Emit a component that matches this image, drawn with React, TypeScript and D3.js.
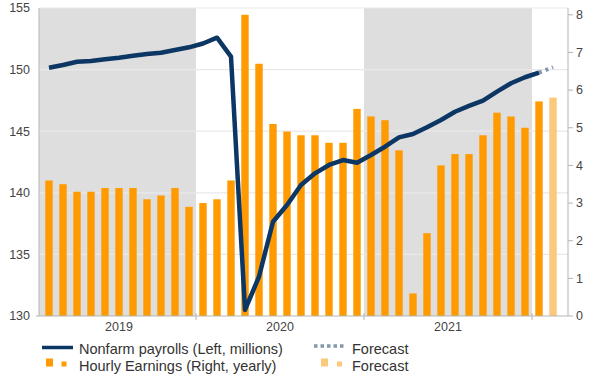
import React from "react";
import * as d3 from "d3";

const months = [
  "Feb 2019", "Mar 2019", "Apr 2019", "May 2019", "Jun 2019", "Jul 2019", "Aug 2019", "Sep 2019", "Oct 2019", "Nov 2019", "Dec 2019",
  "Jan 2020", "Feb 2020", "Mar 2020", "Apr 2020", "May 2020", "Jun 2020", "Jul 2020", "Aug 2020", "Sep 2020", "Oct 2020", "Nov 2020", "Dec 2020",
  "Jan 2021", "Feb 2021", "Mar 2021", "Apr 2021", "May 2021", "Jun 2021", "Jul 2021", "Aug 2021", "Sep 2021", "Oct 2021", "Nov 2021", "Dec 2021",
  "Jan 2022", "Feb 2022",
];

// Nonfarm payrolls, millions (actual, Feb 2019 – Jan 2022)
const payrolls = [
  150.15, 150.37, 150.64, 150.7, 150.84, 150.97, 151.13, 151.27, 151.37, 151.59, 151.81,
  152.12, 152.59, 151.05, 130.49, 133.19, 137.65, 139.01, 140.63, 141.58, 142.26, 142.66, 142.44,
  143.07, 143.74, 144.5, 144.77, 145.32, 145.91, 146.58, 147.05, 147.48, 148.21, 148.89, 149.38,
  149.75,
];
// Forecast segment: Jan 2022 -> Feb 2022
const payrollForecastMonths = ["Jan 2022", "Feb 2022"];
const payrollForecast = [149.75, 150.2];

// Average hourly earnings, % y/y (actual, Feb 2019 – Jan 2022)
const earnings = [
  3.6, 3.5, 3.3, 3.3, 3.4, 3.4, 3.4, 3.1, 3.2, 3.4, 2.9,
  3.0, 3.1, 3.6, 8.0, 6.7, 5.1, 4.9, 4.8, 4.8, 4.6, 4.6, 5.5,
  5.3, 5.2, 4.4, 0.6, 2.2, 4.0, 4.3, 4.3, 4.8, 5.4, 5.3, 5.0,
  5.7,
];
const earningsForecastMonths = ["Feb 2022"];
const earningsForecast = [5.8];

const years = ["2019", "2020", "2021"];
const shadedYears = ["2019", "2021"];
const leftTicks = [130, 135, 140, 145, 150, 155];
const rightTicks = [0, 1, 2, 3, 4, 5, 6, 7, 8];

const W = 600;
const H = 378;
const plotL = 39;
const plotR = 568;
const plotT = 8;
const plotB = 316;

const NAVY = "#0c3663";
const ORANGE = "#ff9a00";
const LIGHT_ORANGE = "#fbc87c";
const FORECAST_LINE = "#8397ad";
const BAND = "#dedede";
const GRID = "#e9e9e9";
const AXIS = "#b5b5b5";
const TEXT = "#333";
const FONT = "'Liberation Sans', Arial, sans-serif";

export default function App() {
  const pad = 0.47;
  const x = d3
    .scaleBand<string>()
    .domain(months)
    .range([42, 560])
    .paddingInner(pad)
    .paddingOuter(pad / 2);
  const step = x.step();
  const bw = x.bandwidth();
  const cx = (m: string) => (x(m) as number) + bw / 2;
  const bandStart = (m: string) => cx(m) - step / 2;

  const yL = d3.scaleLinear().domain([130, 155]).range([plotB, plotT]);
  const yR = d3.scaleLinear().domain([0, (plotB - plotT) / 37.65]).range([plotB, plotT]);

  const yearMonths = (yr: string) => months.filter((m) => m.endsWith(yr));
  const yearStart = (yr: string) => {
    const ms = yearMonths(yr);
    return Math.max(plotL, bandStart(ms[0]) - (ms[0].startsWith("Jan") ? 0 : step * (12 - ms.length)));
  };
  const yearEnd = (yr: string) => {
    const ms = yearMonths(yr);
    return bandStart(ms[ms.length - 1]) + step;
  };
  const yearCenter = (yr: string) => {
    const ms = yearMonths(yr);
    return (cx(ms[0]) + cx(ms[ms.length - 1])) / 2;
  };
  const yearTicks = ["Jan 2020", "Jan 2021", "Jan 2022"].map(bandStart);

  const line = d3
    .line<number>()
    .x((_, i) => cx(months[i]))
    .y((d) => yL(d))
    .curve(d3.curveLinear);
  const fLine = d3
    .line<number>()
    .x((_, i) => cx(payrollForecastMonths[i]))
    .y((d) => yL(d));

  return (
    <div style={{ position: "fixed", left: 0, top: 0, width: W, height: H, background: "#fff" }}>
      <svg width={W} height={H} style={{ display: "block", fontFamily: FONT }}>
        <rect x={0} y={0} width={W} height={H} fill="#fff" />
        {/* year bands */}
        {shadedYears.map((yr) => (
          <rect
            key={yr}
            x={yearStart(yr)}
            y={plotT}
            width={yearEnd(yr) - yearStart(yr)}
            height={plotB - plotT}
            fill={BAND}
          />
        ))}
        {/* gridlines */}
        {leftTicks.slice(1).map((t) => (
          <line key={t} x1={plotL} x2={plotR} y1={yL(t)} y2={yL(t)} stroke={GRID} strokeWidth={1.2} />
        ))}
        {/* bars */}
        {earnings.map((v, i) => (
          <rect key={months[i]} x={x(months[i])} y={yR(v)} width={bw} height={plotB - yR(v)} fill={ORANGE} />
        ))}
        {earningsForecast.map((v, i) => (
          <rect
            key={"f" + i}
            x={x(earningsForecastMonths[i])}
            y={yR(v)}
            width={bw}
            height={plotB - yR(v)}
            fill={LIGHT_ORANGE}
          />
        ))}
        {/* axes */}
        <line x1={plotL} x2={plotL} y1={plotT} y2={plotB} stroke={AXIS} strokeWidth={1} />
        <line x1={plotR} x2={plotR} y1={plotT} y2={plotB} stroke={AXIS} strokeWidth={1} />
        <line x1={plotL - 3} x2={plotR} y1={plotB} y2={plotB} stroke={AXIS} strokeWidth={1} />
        {yearTicks.map((t, i) => (
          <line key={i} x1={t} x2={t} y1={plotB - 3} y2={plotB + 4} stroke={AXIS} strokeWidth={1} />
        ))}
        {rightTicks.map((t) => (
          <line key={t} x1={plotR} x2={plotR + 5} y1={yR(t)} y2={yR(t)} stroke={AXIS} strokeWidth={1} />
        ))}
        {/* payroll line */}
        <path
          d={fLine(payrollForecast) || ""}
          fill="none"
          stroke={FORECAST_LINE}
          strokeWidth={4}
          strokeDasharray="3 4"
        />
        <path
          d={line(payrolls) || ""}
          fill="none"
          stroke={NAVY}
          strokeWidth={4.5}
          strokeLinejoin="round"
          strokeLinecap="butt"
        />
        {/* tick labels */}
        {leftTicks.map((t) => (
          <text key={t} x={30} y={yL(t)} dy="0.35em" textAnchor="end" fontSize={12.5} fill="#444">
            {t}
          </text>
        ))}
        {rightTicks.map((t) => (
          <text key={t} x={576} y={yR(t)} dy="0.35em" textAnchor="start" fontSize={12.5} fill="#444">
            {t}
          </text>
        ))}
        {years.map((yr) => (
          <text key={yr} x={yearCenter(yr)} y={331} textAnchor="middle" fontSize={12.5} fill="#444">
            {yr}
          </text>
        ))}
        {/* legend */}
        <g fontSize={14.5} fill={TEXT}>
          <line x1={42} x2={73} y1={347.5} y2={347.5} stroke={NAVY} strokeWidth={3.5} />
          <text x={79} y={353.5}>Nonfarm payrolls (Left, millions)</text>
          <rect x={46} y={358.5} width={7} height={8} fill={ORANGE} />
          <rect x={61.5} y={361.5} width={5} height={5} fill={ORANGE} />
          <text x={79} y={370.5}>Hourly Earnings (Right, yearly)</text>

          <line x1={314} x2={345} y1={346} y2={346} stroke={FORECAST_LINE} strokeWidth={3.5} strokeDasharray="3.5 3" />
          <text x={352} y={353.5}>Forecast</text>
          <rect x={321} y={358.5} width={7} height={8} fill={LIGHT_ORANGE} />
          <rect x={337} y={361.5} width={5} height={5} fill={LIGHT_ORANGE} />
          <text x={352} y={370.5}>Forecast</text>
        </g>
      </svg>
    </div>
  );
}
